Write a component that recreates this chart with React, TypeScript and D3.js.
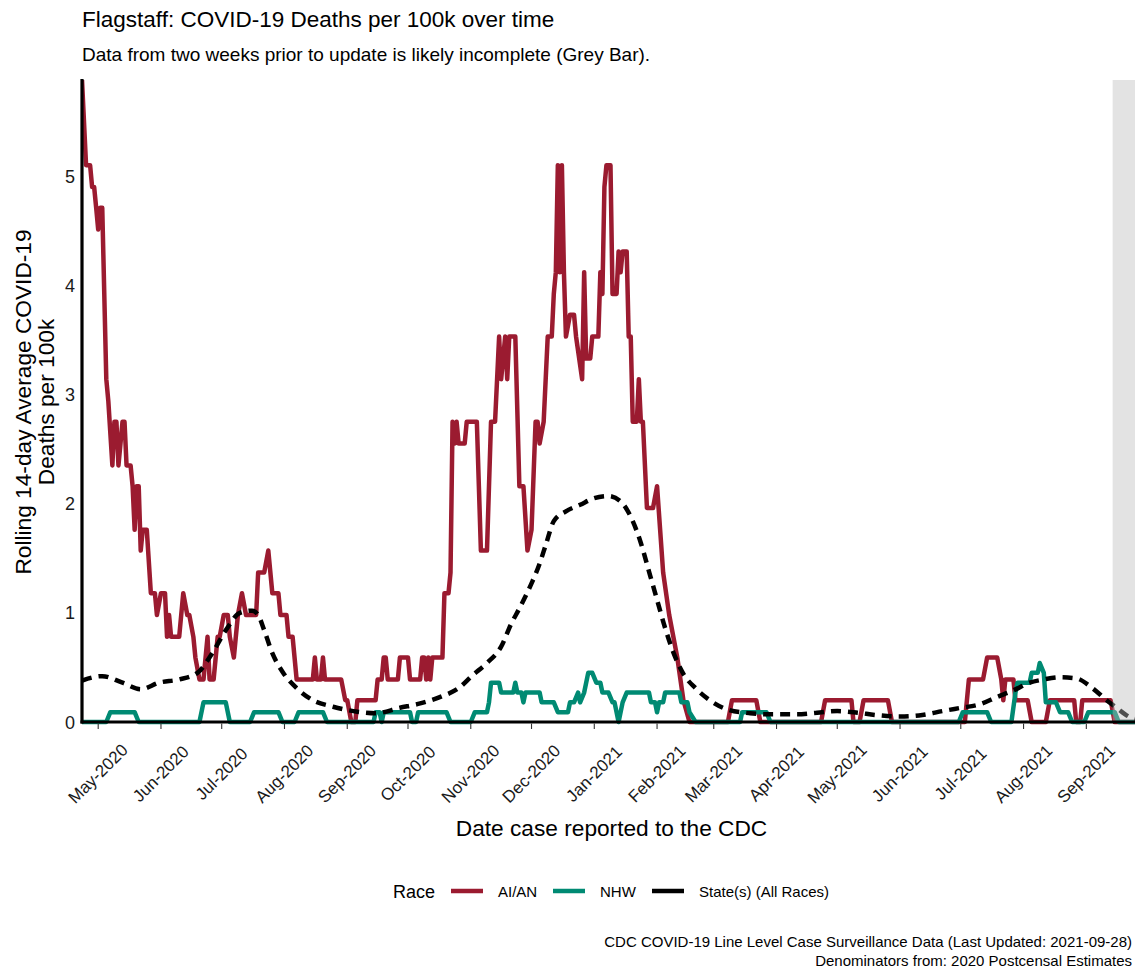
import React from 'react'
import * as d3 from 'd3'

// values (14-day rolling average deaths per 100k)
const races = ['AI/AN', 'NHW', 'State(s) (All Races)']
const raceColors = ['#9b1b30', '#008a73', '#000000']
const yTicks = [0, 1, 2, 3, 4, 5]
const dateExtent = ['2020-04-23', '2021-09-28']
const incompleteFrom = '2021-09-14'
const yMax = 5.88

const aian: [string, number][] = [
  ['2020-04-23', 5.88], ['2020-04-25', 5.1], ['2020-04-27', 5.1], ['2020-04-28', 4.9], ['2020-04-29', 4.9],
  ['2020-04-30', 4.71], ['2020-05-01', 4.51], ['2020-05-02', 4.71], ['2020-05-03', 4.71], ['2020-05-04', 3.92],
  ['2020-05-05', 3.14], ['2020-05-06', 2.94], ['2020-05-08', 2.35], ['2020-05-09', 2.75], ['2020-05-10', 2.75],
  ['2020-05-11', 2.35], ['2020-05-13', 2.75], ['2020-05-14', 2.75], ['2020-05-15', 2.35], ['2020-05-17', 2.35],
  ['2020-05-18', 2.16], ['2020-05-19', 1.76], ['2020-05-20', 2.16], ['2020-05-21', 2.16], ['2020-05-22', 1.57],
  ['2020-05-23', 1.76], ['2020-05-25', 1.76], ['2020-05-27', 1.18], ['2020-05-29', 1.18], ['2020-05-30', 0.98],
  ['2020-06-01', 1.18], ['2020-06-03', 1.18], ['2020-06-04', 0.78], ['2020-06-05', 0.98], ['2020-06-06', 0.78],
  ['2020-06-10', 0.78], ['2020-06-12', 1.18], ['2020-06-14', 0.98], ['2020-06-15', 0.98], ['2020-06-17', 0.78],
  ['2020-06-18', 0.59], ['2020-06-20', 0.39], ['2020-06-22', 0.39], ['2020-06-24', 0.78], ['2020-06-25', 0.39],
  ['2020-06-27', 0.39], ['2020-06-29', 0.78], ['2020-06-30', 0.78], ['2020-07-02', 0.98], ['2020-07-04', 0.98],
  ['2020-07-05', 0.78], ['2020-07-07', 0.59], ['2020-07-09', 0.98], ['2020-07-11', 1.18], ['2020-07-13', 0.98],
  ['2020-07-18', 0.98], ['2020-07-19', 1.37], ['2020-07-22', 1.37], ['2020-07-24', 1.57], ['2020-07-26', 1.18],
  ['2020-07-29', 1.18], ['2020-07-30', 0.98], ['2020-08-02', 0.98], ['2020-08-03', 0.78], ['2020-08-05', 0.78],
  ['2020-08-07', 0.39], ['2020-08-15', 0.39], ['2020-08-16', 0.59], ['2020-08-17', 0.39], ['2020-08-19', 0.39],
  ['2020-08-20', 0.59], ['2020-08-21', 0.39], ['2020-08-29', 0.39], ['2020-08-31', 0.2], ['2020-09-01', 0.2],
  ['2020-09-03', 0], ['2020-09-05', 0], ['2020-09-06', 0.2], ['2020-09-15', 0.2], ['2020-09-16', 0.39],
  ['2020-09-18', 0.39], ['2020-09-19', 0.59], ['2020-09-20', 0.59], ['2020-09-21', 0.39], ['2020-09-26', 0.39],
  ['2020-09-27', 0.59], ['2020-10-01', 0.59], ['2020-10-02', 0.39], ['2020-10-07', 0.39], ['2020-10-08', 0.59],
  ['2020-10-09', 0.59], ['2020-10-10', 0.39], ['2020-10-11', 0.59], ['2020-10-12', 0.39], ['2020-10-13', 0.59],
  ['2020-10-18', 0.59], ['2020-10-19', 1.18], ['2020-10-21', 1.18], ['2020-10-22', 1.37], ['2020-10-23', 2.75],
  ['2020-10-24', 2.55], ['2020-10-25', 2.75], ['2020-10-26', 2.55], ['2020-10-29', 2.55], ['2020-10-30', 2.75],
  ['2020-11-04', 2.75], ['2020-11-05', 2.16], ['2020-11-06', 1.57], ['2020-11-09', 1.57], ['2020-11-11', 2.75],
  ['2020-11-13', 2.75], ['2020-11-15', 3.53], ['2020-11-16', 3.14], ['2020-11-18', 3.53], ['2020-11-19', 3.14],
  ['2020-11-20', 3.53], ['2020-11-23', 3.53], ['2020-11-25', 2.16], ['2020-11-27', 2.16], ['2020-11-29', 1.57],
  ['2020-12-01', 1.76], ['2020-12-03', 2.75], ['2020-12-04', 2.75], ['2020-12-05', 2.55], ['2020-12-07', 2.75],
  ['2020-12-09', 3.53], ['2020-12-11', 3.53], ['2020-12-12', 3.92], ['2020-12-13', 4.12], ['2020-12-14', 5.1],
  ['2020-12-15', 4.12], ['2020-12-16', 5.1], ['2020-12-17', 4.12], ['2020-12-18', 3.53], ['2020-12-20', 3.73],
  ['2020-12-22', 3.73], ['2020-12-23', 3.53], ['2020-12-26', 3.14], ['2020-12-27', 4.12], ['2020-12-28', 3.33],
  ['2020-12-30', 3.33], ['2020-12-31', 3.53], ['2021-01-03', 3.53], ['2021-01-04', 4.12], ['2021-01-05', 3.92],
  ['2021-01-06', 4.9], ['2021-01-07', 5.1], ['2021-01-09', 5.1], ['2021-01-10', 3.92], ['2021-01-12', 3.92],
  ['2021-01-13', 4.31], ['2021-01-14', 4.12], ['2021-01-15', 4.31], ['2021-01-17', 4.31], ['2021-01-18', 3.53],
  ['2021-01-19', 3.53], ['2021-01-20', 2.75], ['2021-01-22', 2.75], ['2021-01-23', 3.14], ['2021-01-24', 2.75],
  ['2021-01-25', 2.75], ['2021-01-27', 1.96], ['2021-01-30', 1.96], ['2021-02-01', 2.16], ['2021-02-04', 1.37],
  ['2021-02-07', 0.98], ['2021-02-11', 0.59], ['2021-02-14', 0.2], ['2021-02-17', 0], ['2021-03-08', 0],
  ['2021-03-10', 0.2], ['2021-03-22', 0.2], ['2021-03-24', 0], ['2021-04-23', 0], ['2021-04-25', 0.2],
  ['2021-05-08', 0.2], ['2021-05-09', 0], ['2021-05-12', 0], ['2021-05-14', 0.2], ['2021-05-26', 0.2],
  ['2021-05-28', 0], ['2021-07-03', 0], ['2021-07-05', 0.39], ['2021-07-12', 0.39], ['2021-07-14', 0.59],
  ['2021-07-19', 0.59], ['2021-07-21', 0.39], ['2021-07-22', 0.2], ['2021-07-23', 0.39], ['2021-07-27', 0.39],
  ['2021-07-28', 0.2], ['2021-08-03', 0.2], ['2021-08-05', 0], ['2021-08-12', 0], ['2021-08-14', 0.2],
  ['2021-08-26', 0.2], ['2021-08-27', 0], ['2021-08-29', 0], ['2021-08-30', 0.2], ['2021-09-13', 0.2],
  ['2021-09-15', 0], ['2021-09-28', 0],
]

const nhw: [string, number][] = [
  ['2020-04-23', 0], ['2020-05-05', 0], ['2020-05-07', 0.09], ['2020-05-19', 0.09], ['2020-05-21', 0],
  ['2020-06-20', 0], ['2020-06-22', 0.18], ['2020-07-03', 0.18], ['2020-07-05', 0], ['2020-07-15', 0],
  ['2020-07-17', 0.09], ['2020-07-29', 0.09], ['2020-07-31', 0], ['2020-08-06', 0], ['2020-08-08', 0.09],
  ['2020-08-20', 0.09], ['2020-08-22', 0], ['2020-09-14', 0], ['2020-09-15', 0.09], ['2020-09-17', 0.09],
  ['2020-09-18', 0], ['2020-09-19', 0.09], ['2020-10-02', 0.09], ['2020-10-03', 0], ['2020-10-05', 0],
  ['2020-10-06', 0.09], ['2020-10-20', 0.09], ['2020-10-22', 0], ['2020-11-01', 0], ['2020-11-03', 0.09],
  ['2020-11-09', 0.09], ['2020-11-10', 0.18], ['2020-11-11', 0.36], ['2020-11-15', 0.36], ['2020-11-16', 0.27],
  ['2020-11-22', 0.27], ['2020-11-23', 0.36], ['2020-11-24', 0.27], ['2020-11-26', 0.27], ['2020-11-27', 0.18],
  ['2020-11-28', 0.27], ['2020-12-05', 0.27], ['2020-12-06', 0.18], ['2020-12-12', 0.18], ['2020-12-14', 0.09],
  ['2020-12-19', 0.09], ['2020-12-20', 0.18], ['2020-12-22', 0.18], ['2020-12-24', 0.27], ['2020-12-25', 0.18],
  ['2020-12-27', 0.27], ['2020-12-29', 0.45], ['2020-12-31', 0.45], ['2021-01-02', 0.36], ['2021-01-04', 0.36],
  ['2021-01-05', 0.27], ['2021-01-08', 0.27], ['2021-01-10', 0.18], ['2021-01-11', 0.18], ['2021-01-13', 0],
  ['2021-01-15', 0.18], ['2021-01-17', 0.27], ['2021-01-28', 0.27], ['2021-01-29', 0.18], ['2021-01-31', 0.18],
  ['2021-02-01', 0.09], ['2021-02-02', 0.18], ['2021-02-04', 0.18], ['2021-02-05', 0.27], ['2021-02-12', 0.27],
  ['2021-02-13', 0.18], ['2021-02-16', 0.18], ['2021-02-17', 0.09], ['2021-02-20', 0], ['2021-03-14', 0],
  ['2021-03-15', 0.09], ['2021-03-27', 0.09], ['2021-03-29', 0], ['2021-06-30', 0], ['2021-07-02', 0.09],
  ['2021-07-14', 0.09], ['2021-07-16', 0], ['2021-07-26', 0], ['2021-07-28', 0.27], ['2021-07-29', 0.36],
  ['2021-08-04', 0.36], ['2021-08-05', 0.45], ['2021-08-08', 0.45], ['2021-08-09', 0.54], ['2021-08-11', 0.45],
  ['2021-08-12', 0.18], ['2021-08-17', 0.18], ['2021-08-19', 0.09], ['2021-08-23', 0.09], ['2021-08-25', 0],
  ['2021-08-31', 0], ['2021-09-02', 0.09], ['2021-09-15', 0.09], ['2021-09-17', 0], ['2021-09-28', 0],
]

const stateAll: [string, number][] = [
  ['2020-04-23', 0.38], ['2020-05-03', 0.42], ['2020-05-13', 0.36], ['2020-05-22', 0.3], ['2020-05-31', 0.36],
  ['2020-06-10', 0.39], ['2020-06-19', 0.45], ['2020-06-26', 0.62], ['2020-07-03', 0.84], ['2020-07-10', 1.0],
  ['2020-07-16', 1.02], ['2020-07-19', 0.98], ['2020-07-22', 0.84], ['2020-07-26', 0.63], ['2020-07-31', 0.46],
  ['2020-08-07', 0.31], ['2020-08-15', 0.2], ['2020-08-25', 0.14], ['2020-09-06', 0.094], ['2020-09-15', 0.08],
  ['2020-09-27', 0.13], ['2020-10-07', 0.17], ['2020-10-17', 0.23], ['2020-10-26', 0.31], ['2020-11-02', 0.43],
  ['2020-11-09', 0.54], ['2020-11-16', 0.69], ['2020-11-21', 0.9], ['2020-11-25', 1.04], ['2020-12-01', 1.27],
  ['2020-12-05', 1.45], ['2020-12-08', 1.62], ['2020-12-12', 1.84], ['2020-12-18', 1.93], ['2020-12-25', 1.99],
  ['2021-01-01', 2.05], ['2021-01-08', 2.07], ['2021-01-14', 2.02], ['2021-01-20', 1.84], ['2021-01-24', 1.64],
  ['2021-01-28', 1.38], ['2021-02-01', 1.12], ['2021-02-05', 0.86], ['2021-02-09', 0.64], ['2021-02-14', 0.44],
  ['2021-02-20', 0.31], ['2021-02-27', 0.2], ['2021-03-07', 0.12], ['2021-03-19', 0.08], ['2021-03-30', 0.07],
  ['2021-04-11', 0.07], ['2021-04-21', 0.085], ['2021-05-01', 0.1], ['2021-05-11', 0.085], ['2021-05-20', 0.064],
  ['2021-06-01', 0.05], ['2021-06-12', 0.064], ['2021-06-22', 0.1], ['2021-07-01', 0.13], ['2021-07-10', 0.16],
  ['2021-07-19', 0.23], ['2021-07-27', 0.29], ['2021-08-04', 0.36], ['2021-08-11', 0.39], ['2021-08-19', 0.41],
  ['2021-08-27', 0.4], ['2021-09-04', 0.31], ['2021-09-11', 0.2], ['2021-09-16', 0.13], ['2021-09-22', 0.05],
  ['2021-09-28', 0.02],
]

const seriesList = [aian, nhw, stateAll]

const font = '"Liberation Sans", Arial, Helvetica, sans-serif'
const legendX = { title: 393, keys: [451, 553, 652], keyW: 32, labels: [498, 600, 699] }

const App = () => {
  const parse = d3.utcParse('%Y-%m-%d')
  const left = 82
  const right = 1141
  const top = 80
  const bottom = 722

  const x = d3.scaleUtc().domain(dateExtent.map((d) => parse(d) as Date)).range([left, right])
  const y = d3.scaleLinear().domain([0, yMax]).range([bottom, top])

  const stepLine = d3
    .line<[string, number]>()
    .x((d) => x(parse(d[0]) as Date))
    .y((d) => y(d[1]))
  const smoothLine = d3
    .line<[string, number]>()
    .curve(d3.curveMonotoneX)
    .x((d) => x(parse(d[0]) as Date))
    .y((d) => y(d[1]))

  const months = d3.utcMonth.range(parse('2020-05-01') as Date, parse('2021-09-02') as Date)
  const fmt = d3.utcFormat('%b-%Y')
  const greyX = x(parse(incompleteFrom) as Date)

  // caption pulled in a little so it stays inside the 1135px window
  const captionRight = 1132

  return (
    <svg
      width={1135}
      height={974}
      style={{ position: 'absolute', left: 0, top: 0, background: '#fff', fontFamily: font }}
    >
      <defs>
        <clipPath id="panel">
          <rect x={left} y={top} width={right - left} height={bottom - top + 4} />
        </clipPath>
      </defs>

      <text x={left} y={27} fontSize={22.5} fill="#000">
        Flagstaff: COVID-19 Deaths per 100k over time
      </text>
      <text x={left} y={61} fontSize={19} fill="#000">
        Data from two weeks prior to update is likely incomplete (Grey Bar).
      </text>

      <g clipPath="url(#panel)">
        {seriesList.map((s, i) => (
          <path
            key={races[i]}
            d={(i === 2 ? smoothLine(s) : stepLine(s)) || ''}
            fill="none"
            stroke={raceColors[i]}
            strokeWidth={4.5}
            strokeLinejoin="round"
            strokeDasharray={i === 2 ? '10 7' : undefined}
          />
        ))}
        <rect x={greyX} y={top} width={right - greyX} height={bottom - top} fill="#bdbdbd" opacity={0.42} />
      </g>

      {/* axes */}
      <line x1={left} x2={left} y1={top - 1} y2={bottom + 1.5} stroke="#000" strokeWidth={3.2} />
      <line x1={left - 1.5} x2={right} y1={bottom} y2={bottom} stroke="#000" strokeWidth={3.2} />

      {yTicks.map((t) => (
        <text key={t} x={75} y={y(t) + 6.5} fontSize={18} textAnchor="end" fill="#1a1a1a">
          {t}
        </text>
      ))}

      {months.map((m) => (
        <g key={+m}>
          <line x1={x(m)} x2={x(m)} y1={bottom + 1.5} y2={bottom + 7} stroke="#333" strokeWidth={1.1} />
          <text
            transform={`translate(${x(m)},774) rotate(-45)`}
            fontSize={17}
            textAnchor="middle"
            dominantBaseline="central"
            fill="#1a1a1a"
          >
            {fmt(m)}
          </text>
        </g>
      ))}

      <text x={(left + right) / 2} y={836} fontSize={22.7} textAnchor="middle" fill="#000">
        Date case reported to the CDC
      </text>

      <g transform={`translate(0,${(top + bottom) / 2 + 1}) rotate(-90)`}>
        <text x={0} y={31} fontSize={22.7} textAnchor="middle" fill="#000">
          Rolling 14-day Average COVID-19
        </text>
        <text x={0} y={54} fontSize={22.7} textAnchor="middle" fill="#000">
          Deaths per 100k
        </text>
      </g>

      {/* legend */}
      <text x={legendX.title} y={898} fontSize={18} fill="#000">
        Race
      </text>
      {races.map((r, i) => (
        <g key={r}>
          <line
            x1={legendX.keys[i]}
            x2={legendX.keys[i] + legendX.keyW}
            y1={891}
            y2={891}
            stroke={raceColors[i]}
            strokeWidth={4.5}
          />
          <text x={legendX.labels[i]} y={896.5} fontSize={15} fill="#000">
            {r}
          </text>
        </g>
      ))}

      <text x={captionRight} y={947} fontSize={15} textAnchor="end" fill="#000">
        CDC COVID-19 Line Level Case Surveillance Data (Last Updated: 2021-09-28)
      </text>
      <text x={captionRight} y={966} fontSize={15} textAnchor="end" fill="#000">
        Denominators from: 2020 Postcensal Estimates
      </text>
    </svg>
  )
}

export default App
